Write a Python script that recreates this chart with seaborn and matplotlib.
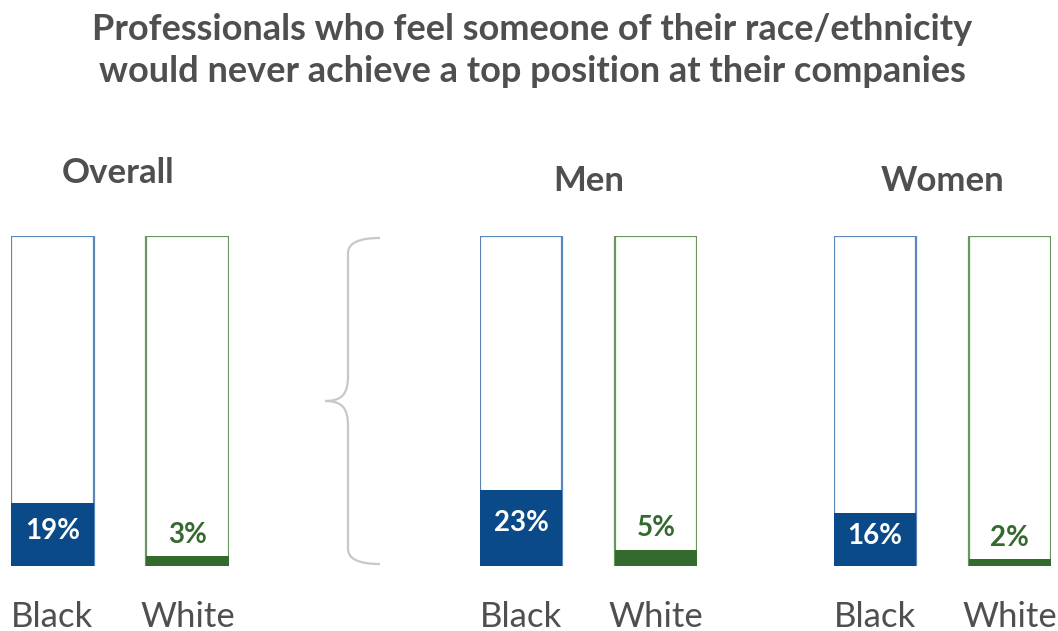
import matplotlib.pyplot as plt
import seaborn as sns
import pandas as pd
from matplotlib.path import Path
from matplotlib.patches import PathPatch

sns.set_theme(style="white")
plt.rcParams['font.family'] = ['Lato', 'DejaVu Sans']

# Data
groups = ['Overall', 'Men', 'Women']
races = ['Black', 'White']
black_vals = [19, 23, 16]
white_vals = [3, 5, 2]

fill_colors = {'Black': '#0b4a88', 'White': '#356a2e'}
edge_colors = {'Black': '#5b86b8', 'White': '#6a9560'}
text_grey = '#4f4f4f'

fig = plt.figure(figsize=(10.58, 6.31), dpi=100)
W, H = 1058, 631

# axes rectangles in pixels (left, right) - bars span 236..566 vertically
ax_x = [(11, 229), (480, 697), (834, 1051)]
head_x = [118, 589, 943]
head_y = [173, 181, 181]
top, bottom = 236, 566

for gi, g in enumerate(groups):
    x0, x1 = ax_x[gi]
    ax = fig.add_axes([x0 / W, (H - bottom) / H, (x1 - x0) / W, (bottom - top) / H])
    df = pd.DataFrame({'race': races, 'value': [black_vals[gi], white_vals[gi]],
                       'total': [100, 100]})

    # outline bars (full height)
    sns.barplot(data=df, x='race', y='total', color='white', width=0.61, ax=ax,
                linewidth=1.6, saturation=1)
    for p, r in zip(ax.patches, races):
        p.set_edgecolor(edge_colors[r])
        p.set_facecolor('white')

    # value bars
    sns.barplot(data=df, x='race', y='value', hue='race', palette=fill_colors,
                width=0.61, ax=ax, legend=False, saturation=1, linewidth=0)

    ax.set_xlim(-0.305, 1.305)
    ax.set_ylim(0, 100)
    ax.set_xlabel('')
    ax.set_ylabel('')
    ax.set_yticks([])
    ax.tick_params(axis='x', length=0, pad=25, labelsize=25, labelcolor=text_grey)
    for s in ax.spines.values():
        s.set_visible(False)

    # value labels
    bv, wv = black_vals[gi], white_vals[gi]
    ax.text(0, bv * 0.56, f'{bv}%', ha='center', va='center', color='white',
            fontsize=20, fontweight='bold')
    ax.text(1, wv + 6.5, f'{wv}%', ha='center', va='center', color=fill_colors['White'],
            fontsize=20, fontweight='bold')

    # group header
    fig.text(head_x[gi] / W, 1 - head_y[gi] / H, g,
             ha='center', va='center', fontsize=25, fontweight='bold', color=text_grey)

# title
fig.text(532 / W, 1 - 29 / H, 'Professionals who feel someone of their race/ethnicity',
         ha='center', va='center', fontsize=26, fontweight='bold', color=text_grey)
fig.text(532 / W, 1 - 72 / H, 'would never achieve a top position at their companies',
         ha='center', va='center', fontsize=26, fontweight='bold', color=text_grey)

# curly brace between overall and gender breakdown
bx_r, bx_m, bx_l = 380 / W, 348 / W, 325 / W
yt, yb = 1 - 238 / H, 1 - 564 / H
ym = (yt + yb) / 2
r = 0.04
verts = [
    (bx_r, yt), (bx_m, yt), (bx_m, yt - r * 0.6),
    (bx_m, ym + r),
    (bx_m, ym + r * 0.3), (bx_m - 0.005, ym), (bx_l, ym),
    (bx_m - 0.005, ym), (bx_m, ym - r * 0.3), (bx_m, ym - r),
    (bx_m, yb + r * 0.6),
    (bx_m, yb), (bx_r, yb),
]
codes = [Path.MOVETO, Path.CURVE3, Path.CURVE3, Path.LINETO,
         Path.CURVE4, Path.CURVE4, Path.CURVE4,
         Path.CURVE4, Path.CURVE4, Path.CURVE4,
         Path.LINETO, Path.CURVE3, Path.CURVE3]
fig.patches.append(PathPatch(Path(verts, codes), transform=fig.transFigure,
                             facecolor='none', edgecolor='#c8c8c8', lw=1.6))

fig.savefig('out.png', dpi=100)
